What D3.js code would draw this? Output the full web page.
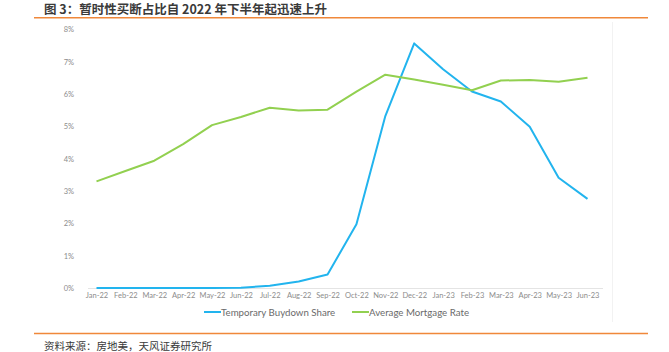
<!DOCTYPE html>
<html>
<head>
<meta charset="utf-8">
<script src="https://cdn.jsdelivr.net/npm/d3@7"></script>
<style>
  html, body { margin: 0; padding: 0; background: #fff; }
  svg { display: block; }
</style>
</head>
<body>
<svg id="chart" width="669" height="352"></svg>
<script>
// data (percent)
const months = ["Jan-22","Feb-22","Mar-22","Apr-22","May-22","Jun-22","Jul-22","Aug-22","Sep-22",
  "Oct-22","Nov-22","Dec-22","Jan-23","Feb-23","Mar-23","Apr-23","May-23","Jun-23"];
const buydownShare = [0, 0, 0, 0, 0, 0.01, 0.07, 0.2, 0.42, 1.97, 5.32, 7.57, 6.77, 6.08, 5.77, 4.99, 3.41, 2.76];
const mortgageRate = [3.30, 3.62, 3.94, 4.45, 5.04, 5.29, 5.58, 5.49, 5.52, 6.08, 6.60, 6.45, 6.29, 6.12, 6.42, 6.44, 6.38, 6.51];
const yTicks = [0, 1, 2, 3, 4, 5, 6, 7, 8];
const seriesNames = ["Temporary Buydown Share", "Average Mortgage Rate"];
const colors = ["#22b4ee", "#92d050"];

const svg = d3.select("#chart");
const font = "Lato, 'Noto Sans', sans-serif";
const cjk = "'Noto Sans CJK SC', sans-serif";

// title + orange rules
svg.append("text")
  .attr("x", 44).attr("y", 14)
  .attr("font-family", cjk).attr("font-size", 12.5).attr("font-weight", "bold")
  .attr("fill", "#3a3a3a")
  .text("图 3：暂时性买断占比自 2022 年下半年起迅速上升");

svg.append("line").attr("x1", 34).attr("x2", 648).attr("y1", 17.8).attr("y2", 17.8)
  .attr("stroke", "#f0883a").attr("stroke-width", 1.6);
svg.append("line").attr("x1", 34).attr("x2", 648).attr("y1", 333.5).attr("y2", 333.5)
  .attr("stroke", "#f0883a").attr("stroke-width", 1.6);

// faint frame edge of the embedded image
svg.append("line").attr("x1", 612.5).attr("x2", 612.5).attr("y1", 22).attr("y2", 322)
  .attr("stroke", "#f2f2f2").attr("stroke-width", 1);

svg.append("text")
  .attr("x", 44).attr("y", 350)
  .attr("font-family", cjk).attr("font-size", 10.5)
  .attr("fill", "#3a3a3a")
  .text("资料来源：房地美，天风证券研究所");

// scales
const x = d3.scalePoint().domain(months).range([96.5, 587.5]);
const y = d3.scaleLinear().domain([0, 8]).range([288, 29.5]);

// baseline
svg.append("line").attr("x1", 88).attr("x2", 603).attr("y1", y(0) + 0.5).attr("y2", y(0) + 0.5)
  .attr("stroke", "#e4e4e4").attr("stroke-width", 1);

// y axis labels
const yAxis = svg.append("g").attr("transform", "translate(74,0)")
  .call(d3.axisLeft(y).tickValues(yTicks).tickFormat(d => d + "%").tickSize(0).tickPadding(0));
yAxis.select(".domain").remove();
yAxis.selectAll("text").attr("font-family", font).attr("font-size", 7.5).attr("fill", "#8c8c8c");

// x axis labels
const xAxis = svg.append("g").attr("transform", "translate(0,293)")
  .call(d3.axisBottom(x).tickSize(0).tickPadding(0));
xAxis.select(".domain").remove();
xAxis.selectAll("text").attr("font-family", font).attr("font-size", 7.5).attr("fill", "#8c8c8c");

// lines
const line = d3.line().x((d, i) => x(months[i])).y(d => y(d));
[buydownShare, mortgageRate].forEach((vals, k) => {
  svg.append("path").datum(vals)
    .attr("d", line)
    .attr("fill", "none")
    .attr("stroke", colors[k])
    .attr("stroke-width", 2)
    .attr("stroke-linejoin", "round");
});

// legend
const legX = [204, 352];
seriesNames.forEach((name, k) => {
  const g = svg.append("g").attr("transform", `translate(${legX[k]},312)`);
  g.append("line").attr("x1", 0).attr("x2", 17).attr("y1", 0).attr("y2", 0)
    .attr("stroke", colors[k]).attr("stroke-width", 2);
  g.append("text").attr("x", 17).attr("y", 3.5)
    .attr("font-family", font).attr("font-size", 9.7).attr("fill", "#6a6a6a")
    .text(name);
});
</script>
</body>
</html>
